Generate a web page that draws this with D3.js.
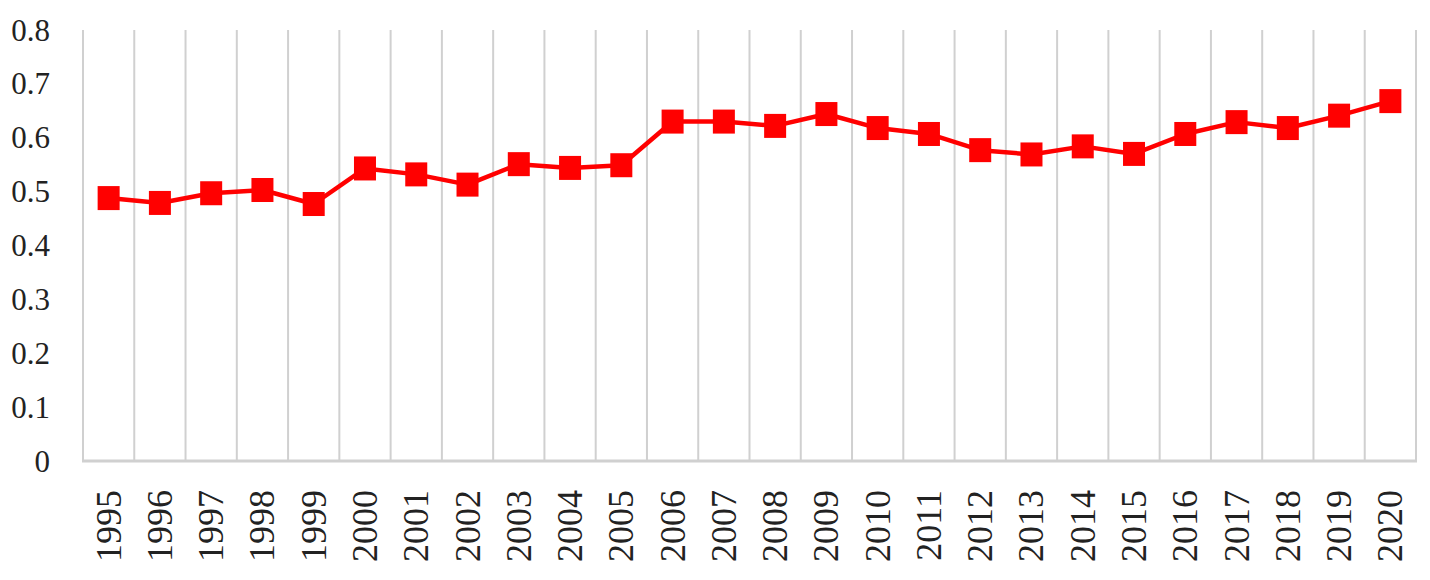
<!DOCTYPE html>
<html><head><meta charset="utf-8">
<script src="https://cdn.jsdelivr.net/npm/d3@7"></script>
<style>body{margin:0;background:#fff}</style>
</head><body>
<svg id="c" width="1430" height="580"></svg>
<script>
const years = ["1995","1996","1997","1998","1999","2000","2001","2002","2003","2004","2005","2006","2007","2008","2009","2010","2011","2012","2013","2014","2015","2016","2017","2018","2019","2020"];
const values = [0.488,0.479,0.497,0.503,0.477,0.543,0.532,0.513,0.551,0.544,0.549,0.630,0.630,0.622,0.644,0.618,0.607,0.577,0.569,0.584,0.570,0.607,0.629,0.618,0.641,0.668];
const yTicks = [0,0.1,0.2,0.3,0.4,0.5,0.6,0.7,0.8];

(function(){
const svg = d3.select("#c");
const pL = 83, pR = 1416, pT = 30, pB = 461;
const x = d3.scaleBand().domain(years).range([pL, pR]);
const y = d3.scaleLinear().domain([0, 0.8]).range([pB, pT]);

const bounds = years.map(d => x(d)).concat([pR]);
svg.append("g").selectAll("line").data(bounds).join("line")
  .attr("x1", d => d).attr("x2", d => d)
  .attr("y1", pT).attr("y2", pB)
  .attr("stroke", "#d0d0d0").attr("stroke-width", 2);

svg.append("line").attr("x1", pL - 1).attr("x2", pR + 1)
  .attr("y1", pB).attr("y2", pB)
  .attr("stroke", "#d0d0d0").attr("stroke-width", 3);

svg.append("g").selectAll("text").data(yTicks).join("text")
  .attr("x", 50).attr("y", d => y(d))
  .attr("text-anchor", "end").attr("dominant-baseline", "central")
  .attr("font-family", "'Liberation Serif', 'DejaVu Serif', serif")
  .attr("font-size", 31).attr("fill", "#222")
  .text(d => d3.format("")(d));

svg.append("g").selectAll("text").data(years).join("text")
  .attr("transform", d => `translate(${x(d) + x.bandwidth()/2},490) rotate(-90)`)
  .attr("text-anchor", "end").attr("dominant-baseline", "central")
  .attr("font-family", "'Liberation Serif', 'DejaVu Serif', serif")
  .attr("font-size", 36).attr("fill", "#222")
  .text(d => d);

const cx = d => x(d) + x.bandwidth()/2;
const line = d3.line().x((d, i) => cx(years[i])).y(d => y(d));
svg.append("path").datum(values)
  .attr("d", line).attr("fill", "none")
  .attr("stroke", "#ff0000").attr("stroke-width", 4.5)
  .attr("stroke-linejoin", "round");

const mw = 22, mh = 24;
svg.append("g").selectAll("rect").data(values).join("rect")
  .attr("x", (d, i) => cx(years[i]) - mw/2)
  .attr("y", d => y(d) - mh/2)
  .attr("width", mw).attr("height", mh)
  .attr("fill", "#ff0000");
})();
</script>
</body></html>
